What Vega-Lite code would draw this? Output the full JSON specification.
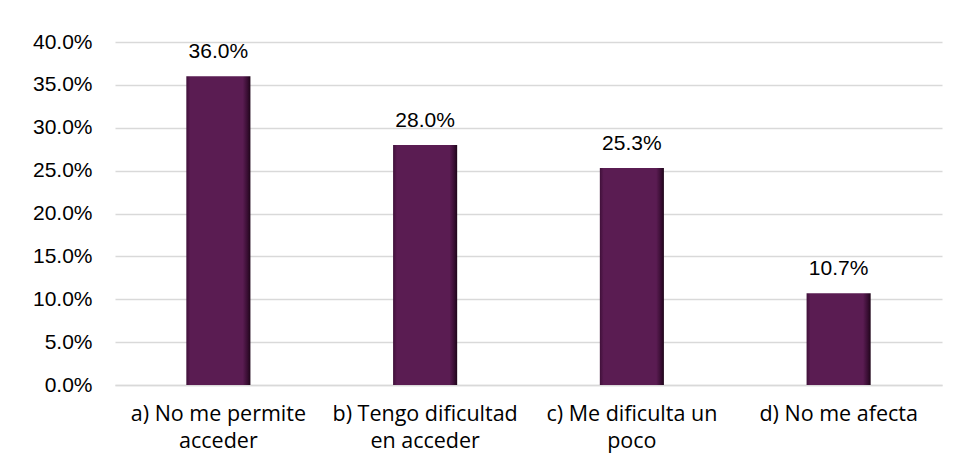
{
  "$schema": "https://vega.github.io/schema/vega-lite/v6.json",
  "width": 827,
  "height": 343,
  "autosize": {"type": "none"},
  "padding": {"left": 115, "top": 42, "right": 15, "bottom": 83},
  "background": "white",
  "config": {"view": {"stroke": null}},
  "data": {
    "values": [
      {"respuesta": "a) No me permite acceder", "pct": 0.36},
      {"respuesta": "b) Tengo dificultad en acceder", "pct": 0.28},
      {"respuesta": "c) Me dificulta un poco", "pct": 0.253},
      {"respuesta": "d) No me afecta", "pct": 0.107}
    ]
  },
  "encoding": {
    "x": {
      "field": "respuesta",
      "type": "nominal",
      "sort": null,
      "scale": {"paddingInner": 0.69, "paddingOuter": 0.345},
      "axis": {
        "title": null,
        "labelAngle": 0,
        "ticks": false,
        "domainColor": "#d9d9d9",
        "domainWidth": 1.5,
        "labelFont": "Open Sans",
        "labelFontSize": 21.5,
        "labelColor": "#000000",
        "labelPadding": 18,
        "labelLineHeight": 27,
        "labelLimit": 300,
        "labelExpr": "datum.value == 'a) No me permite acceder' ? ['a) No me permite', 'acceder'] : datum.value == 'b) Tengo dificultad en acceder' ? ['b) Tengo dificultad', 'en acceder'] : datum.value == 'c) Me dificulta un poco' ? ['c) Me dificulta un', 'poco'] : datum.value"
      }
    },
    "y": {
      "field": "pct",
      "type": "quantitative",
      "scale": {"domain": [0, 0.4]},
      "axis": {
        "title": null,
        "format": ".1%",
        "values": [0, 0.05, 0.1, 0.15, 0.2, 0.25, 0.3, 0.35, 0.4],
        "domain": false,
        "ticks": false,
        "gridColor": "#d9d9d9",
        "gridWidth": 1.5,
        "labelFont": "Liberation Sans",
        "labelFontSize": 21,
        "labelColor": "#000000",
        "labelPadding": 23
      }
    }
  },
  "layer": [
    {
      "mark": {
        "type": "bar",
        "color": {
          "gradient": "linear",
          "x1": 0, "y1": 0, "x2": 1, "y2": 0,
          "stops": [
            {"offset": 0, "color": "#3f1039"},
            {"offset": 0.06, "color": "#5a1c52"},
            {"offset": 0.88, "color": "#5a1c52"},
            {"offset": 0.95, "color": "#3a0e34"},
            {"offset": 1, "color": "#1e0519"}
          ]
        }
      }
    },
    {
      "mark": {
        "type": "text",
        "dy": -24,
        "font": "Liberation Sans",
        "fontSize": 21,
        "color": "#000000"
      },
      "encoding": {
        "text": {"field": "pct", "type": "quantitative", "format": ".1%"}
      }
    }
  ]
}
